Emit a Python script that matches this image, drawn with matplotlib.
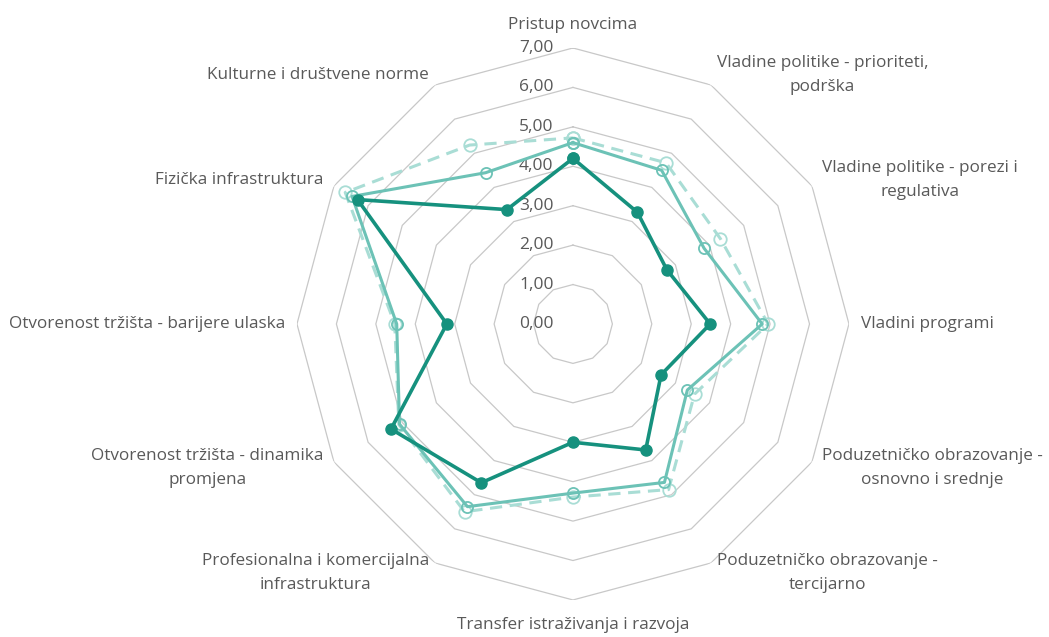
import numpy as np
import matplotlib
matplotlib.use('Agg')
import matplotlib.pyplot as plt

# categories, clockwise from the top
categories = [
    'Pristup novcima',
    'Vladine politike - prioriteti,\npodrška',
    'Vladine politike - porezi i\nregulativa',
    'Vladini programi',
    'Poduzetničko obrazovanje -\nosnovno i srednje',
    'Poduzetničko obrazovanje -\ntercijarno',
    'Transfer istraživanja i razvoja',
    'Profesionalna i komercijalna\ninfrastruktura',
    'Otvorenost tržišta - dinamika\npromjena',
    'Otvorenost tržišta - barijere ulaska',
    'Fizička infrastruktura',
    'Kulturne i društvene norme',
]

# three series
series_dark = [4.20, 3.27, 2.75, 3.48, 2.58, 3.69, 3.00, 4.65, 5.33, 3.20, 6.31, 3.35]
series_mid = [4.60, 4.50, 3.84, 4.80, 3.35, 4.64, 4.29, 5.35, 5.08, 4.47, 6.47, 4.43]
series_light = [4.72, 4.72, 4.32, 4.95, 3.56, 4.85, 4.39, 5.50, 5.10, 4.52, 6.67, 5.24]

ticks = [0, 1, 2, 3, 4, 5, 6, 7]
tick_labels = ['0,00', '1,00', '2,00', '3,00', '4,00', '5,00', '6,00', '7,00']

plt.rcParams['font.family'] = ['Open Sans', 'DejaVu Sans']

n = len(categories)
theta = np.arange(n) * 2 * np.pi / n
theta_c = np.append(theta, theta[0])

def closed(vals):
    return np.append(vals, vals[0])

fig = plt.figure(figsize=(10.49, 6.37), dpi=100)
ax = fig.add_axes([0.2831, 0.0581, 0.5262, 0.8666], projection='polar')
ax.set_theta_offset(np.pi / 2)
ax.set_theta_direction(-1)
ax.set_ylim(0, 7)
ax.axis('off')

grid_col = '#C8C8C8'
for t in ticks[1:]:
    ax.plot(theta_c, [t] * (n + 1), color=grid_col, lw=0.9, zorder=1)

text_col = '#595959'
for t, lab in zip(ticks, tick_labels):
    # labels sit just left of the top spoke
    ax.annotate(lab, xy=(0, t), xytext=(-14, 0), textcoords='offset points',
                ha='right', va='center', fontsize=12.5, color=text_col)

ax.plot(theta_c, closed(series_light), color='#A9DDD5', lw=2.2, ls=(0, (4, 2.5)),
        marker='o', ms=9, mfc='none', mec='#A9DDD5', mew=1.3, zorder=2)
ax.plot(theta_c, closed(series_mid), color='#6CC2B6', lw=2.2,
        marker='o', ms=8, mfc='none', mec='#6CC2B6', mew=1.3, zorder=3)
ax.plot(theta_c, closed(series_dark), color='#16917E', lw=2.6,
        marker='o', ms=8, mfc='#16917E', mec='#16917E', zorder=4)

# category labels around the outer ring
fs = 12.3
for ang, lab in zip(theta, categories):
    deg = np.degrees(ang)
    if deg == 0:
        ax.text(ang, 7.38, lab, ha='center', va='bottom', fontsize=fs, color=text_col)
    elif deg == 180:
        ax.text(ang, 7.42, lab, ha='center', va='top', fontsize=fs, color=text_col)
    elif deg < 180:
        ax.text(ang, 7.3, lab, ha='left', va='center', multialignment='center',
                fontsize=fs, color=text_col, linespacing=1.65)
    else:
        ax.text(ang, 7.3, lab, ha='right', va='center', multialignment='center',
                fontsize=fs, color=text_col, linespacing=1.65)

fig.savefig('out.png', dpi=100, facecolor='white')
